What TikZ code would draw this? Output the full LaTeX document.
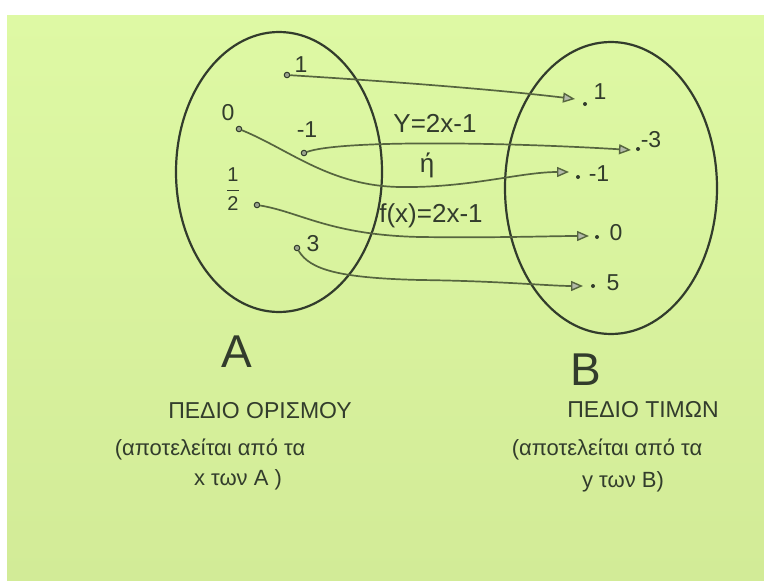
\documentclass[tikz,border=0pt]{standalone}
\usepackage{fontspec}
\setmainfont{Liberation Sans}
\usetikzlibrary{arrows.meta}

\definecolor{paper}{HTML}{DEF9A4}
\definecolor{paperlow}{HTML}{D2EB97}
\definecolor{ink}{HTML}{323C2C}
\definecolor{pen}{HTML}{56653F}

\begin{document}
\begin{tikzpicture}[
		x=1pt, y=-1pt,
		set/.style={draw=ink, line width=2.2pt},
		dot/.style={circle, draw=ink, fill=pen!60, line width=1pt, inner sep=0pt, minimum size=5.5pt},
		small dot/.style={circle, fill=ink, inner sep=0pt, minimum size=4pt},
		map/.style={pen, line width=1.7pt, -{Triangle[length=12pt, width=10pt, fill=pen!45, line width=1.4pt]}},
		val/.style={text=ink, inner sep=0pt, font=\fontsize{23}{25}\selectfont},
		eq/.style={text=ink, inner sep=0pt, font=\fontsize{26}{28}\selectfont},
		big/.style={text=ink, inner sep=0pt, font=\fontsize{46}{48}\selectfont},
		caption/.style={text=ink, inner sep=0pt, font=\fontsize{23}{25}\selectfont},
		note/.style={text=ink, inner sep=0pt, font=\fontsize{22}{24}\selectfont}
		]
		\useasboundingbox (0,0) rectangle (764,581);
		\fill[white] (0,0) rectangle (764,581);
		\shade[top color=paper, bottom color=paperlow] (7,15) rectangle (764,581);

		% the two sets
		\draw[set] (279,172) ellipse [x radius=103, y radius=140];
		\draw[set] (611,188) ellipse [x radius=106, y radius=146];

		% elements of A
		\node (a one) at (287,75) [dot] {};
		\node (a zero) at (239,129) [dot] {};
		\node (a minus one) at (304,153) [dot] {};
		\node (a half) at (257,205) [dot] {};
		\node (a three) at (297,248) [dot] {};
		\node (a one text) at (301,65) [val] {1};
		\node (a zero text) at (228,113) [val] {0};
		\node (a minus one text) at (307,130) [val] {-1};
		\node (a half text) at (233,189) [val, font=\fontsize{20}{22}\selectfont] {$\displaystyle\frac{\mbox{1}}{\mbox{2}}$};
		\node (a three text) at (313,244) [val] {3};

		% elements of B
		\node (b one) at (585,104) [small dot] {};
		\node (b minus three) at (638,149) [small dot] {};
		\node (b minus one) at (578,177) [small dot] {};
		\node (b zero) at (597,237) [small dot] {};
		\node (b five) at (593,286) [small dot] {};
		\node (b one text) at (600,92) [val] {1};
		\node (b minus three text) at (651,140) [val] {-3};
		\node (b minus one text) at (599,174) [val] {-1};
		\node (b zero text) at (616,233) [val] {0};
		\node (b five text) at (613,283) [val] {5};

		\coordinate (to one) at (575,99);
		\coordinate (to minus three) at (631,150);
		\coordinate (to minus one) at (569,172);
		\coordinate (to zero) at (589,236);
		\coordinate (to five) at (583,286);

		\draw[map] (a one) .. controls (400,82) and (500,90) .. (to one);
		\draw[map] (a zero) .. controls (290,150) and (330,186) .. (400,187) .. controls (470,188) and (520,172) .. (to minus one);
		\draw[map] (a minus one) .. controls (340,140) and (500,142) .. (to minus three);
		\draw[map] (a half) .. controls (300,212) and (330,235) .. (420,237) .. controls (500,238) and (550,236) .. (to zero);
		\draw[map] (a three) .. controls (310,270) and (340,278) .. (420,280) .. controls (500,281) and (550,286) .. (to five);

		\node (rule) at (435,123) [eq] {Y=2x-1};
		\node (or) at (427,165) [eq] {ή};
		\node (formula) at (431,216) [eq] {f(x)=2x-1};

		% names and notes
		\node (name a) at (237,352) [big] {A};
		\node (name b) at (586,370) [big] {B};
		\node (domain) at (260,411) [caption] {ΠΕΔΙΟ ΟΡΙΣΜΟΥ};
		\node (range) at (643,410) [caption] {ΠΕΔΙΟ ΤΙΜΩΝ};
		\node (domain note) at (210,449) [note] {(αποτελείται από τα};
		\node (domain note 2) at (238,480) [note] {x των Α )};
		\node (range note) at (607,449) [note] {(αποτελείται από τα};
		\node (range note 2) at (623,482) [note] {y των B)};
	\end{tikzpicture}
\end{document}
